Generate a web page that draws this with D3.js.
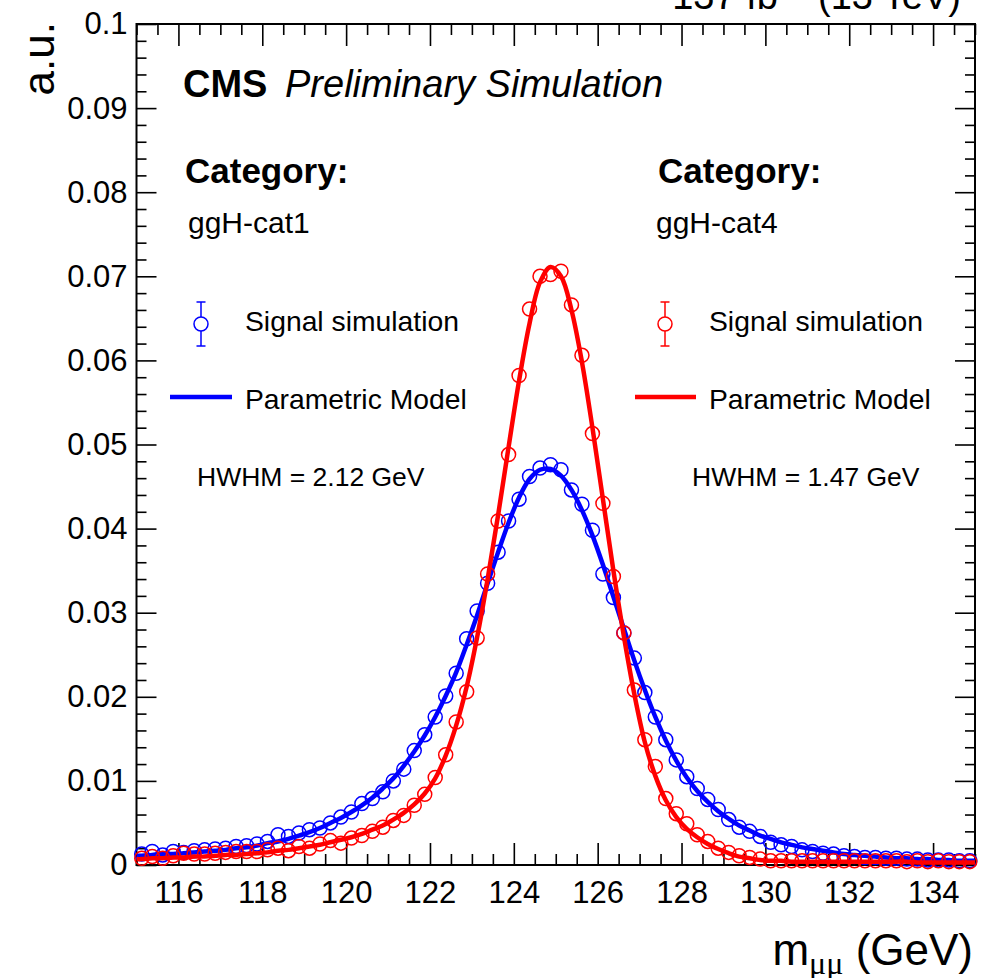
<!DOCTYPE html>
<html>
<head>
<meta charset="utf-8">
<script src="https://cdn.jsdelivr.net/npm/d3@7"></script>
<style>
  html, body { margin: 0; padding: 0; background: #fff; }
  svg { display: block; font-family: "Liberation Sans", Arial, Helvetica, sans-serif; }
</style>
</head>
<body>
<svg id="chart" width="1001" height="978"></svg>
<script>
// ---------------- DATA ----------------
// bin centres of the simulated signal histograms (GeV)
const binCenters = [
  115.125,115.375,115.625,115.875,116.125,116.375,116.625,116.875,117.125,117.375,
  117.625,117.875,118.125,118.375,118.625,118.875,119.125,119.375,119.625,119.875,
  120.125,120.375,120.625,120.875,121.125,121.375,121.625,121.875,122.125,122.375,
  122.625,122.875,123.125,123.375,123.625,123.875,124.125,124.375,124.625,124.875,
  125.125,125.375,125.625,125.875,126.125,126.375,126.625,126.875,127.125,127.375,
  127.625,127.875,128.125,128.375,128.625,128.875,129.125,129.375,129.625,129.875,
  130.125,130.375,130.625,130.875,131.125,131.375,131.625,131.875,132.125,132.375,
  132.625,132.875,133.125,133.375,133.625,133.875,134.125,134.375,134.625,134.875
];

// ggH-cat1 signal simulation (blue points)
const simCat1 = [
  0.0013,0.0016,0.0012,0.0016,0.0015,0.0017,0.0018,0.0019,0.0020,0.0022,
  0.0023,0.0025,0.0028,0.0036,0.0034,0.0038,0.0042,0.0044,0.0050,0.0057,
  0.0063,0.0073,0.0079,0.0087,0.0100,0.0114,0.0136,0.0155,0.0176,0.0201,
  0.0228,0.0269,0.0302,0.0335,0.0372,0.0409,0.0435,0.0462,0.0472,0.0476,
  0.0470,0.0446,0.0429,0.0398,0.0346,0.0318,0.0276,0.0246,0.0205,0.0176,
  0.0149,0.0125,0.0105,0.0091,0.0078,0.0066,0.0054,0.0045,0.0040,0.0034,
  0.0027,0.0024,0.0022,0.0018,0.0016,0.0014,0.0013,0.0011,0.0010,0.0009,
  0.0009,0.0008,0.0008,0.0007,0.0007,0.0006,0.0006,0.0006,0.0005,0.0005
];

// ggH-cat4 signal simulation (red points)
const simCat4 = [
  0.0008,0.0010,0.0008,0.0011,0.0014,0.0013,0.0013,0.0014,0.0015,0.0016,
  0.0016,0.0016,0.0018,0.0020,0.0017,0.0022,0.0020,0.0025,0.0029,0.0026,
  0.0032,0.0035,0.0040,0.0045,0.0053,0.0059,0.0071,0.0084,0.0104,0.0131,
  0.0170,0.0206,0.0270,0.0346,0.0409,0.0488,0.0582,0.0661,0.0700,0.0702,
  0.0706,0.0666,0.0606,0.0513,0.0430,0.0343,0.0276,0.0208,0.0149,0.0117,
  0.0079,0.0061,0.0049,0.0036,0.0028,0.0020,0.0015,0.0011,0.0009,0.0007,
  0.0005,0.0005,0.0005,0.0005,0.0005,0.0005,0.0005,0.0005,0.0005,0.0005,
  0.0005,0.0005,0.0005,0.0004,0.0005,0.0004,0.0005,0.0004,0.0004,0.0004
];

// parametric model curves, sampled at the frame edges and the bin centres
const modelMass = [115.0].concat(binCenters, [135.0]);

const modelCat1 = [
  0.0011,
  0.0011,0.0012,0.0013,0.0013,0.0014,0.0015,0.0016,0.0017,0.0018,0.0020,
  0.0021,0.0023,0.0026,0.0028,0.0031,0.0035,0.0039,0.0044,0.0050,0.0056,
  0.0063,0.0071,0.0080,0.0091,0.0103,0.0118,0.0135,0.0154,0.0176,0.0201,
  0.0229,0.0262,0.0297,0.0335,0.0372,0.0407,0.0437,0.0459,0.0470,0.0471,
  0.0463,0.0446,0.0422,0.0392,0.0357,0.0319,0.0281,0.0243,0.0208,0.0176,
  0.0148,0.0124,0.0104,0.0088,0.0075,0.0064,0.0055,0.0047,0.0041,0.0035,
  0.0031,0.0027,0.0024,0.0021,0.0019,0.0017,0.0015,0.0013,0.0012,0.0011,
  0.0010,0.0009,0.0008,0.0008,0.0007,0.0007,0.0006,0.0006,0.0005,0.0005,
  0.0005
];

const modelCat4 = [
  0.0007,
  0.0007,0.0008,0.0008,0.0009,0.0009,0.0010,0.0010,0.0011,0.0012,0.0012,
  0.0013,0.0014,0.0015,0.0017,0.0018,0.0020,0.0022,0.0024,0.0027,0.0030,
  0.0033,0.0037,0.0042,0.0047,0.0054,0.0062,0.0072,0.0085,0.0103,0.0130,
  0.0166,0.0212,0.0271,0.0340,0.0416,0.0497,0.0576,0.0644,0.0693,0.0711,
  0.0700,0.0660,0.0598,0.0520,0.0435,0.0350,0.0272,0.0203,0.0146,0.0106,
  0.0077,0.0057,0.0043,0.0033,0.0025,0.0019,0.0014,0.0010,0.0008,0.0006,
  0.0005,0.0005,0.0004,0.0004,0.0004,0.0004,0.0004,0.0004,0.0004,0.0004,
  0.0004,0.0004,0.0004,0.0004,0.0003,0.0003,0.0003,0.0003,0.0003,0.0003,
  0.0003
];

const xDomain = [115, 135];
const yDomain = [0, 0.1];
const xMajorTicks = [116,118,120,122,124,126,128,130,132,134];
const xTickLabels = ["116","118","120","122","124","126","128","130","132","134"];
const yMajorTicks = [0,0.01,0.02,0.03,0.04,0.05,0.06,0.07,0.08,0.09,0.1];
const yTickLabels = ["0","0.01","0.02","0.03","0.04","0.05","0.06","0.07","0.08","0.09","0.1"];

const categories = ["ggH-cat1", "ggH-cat4"];
const hwhmTexts = ["HWHM = 2.12 GeV", "HWHM = 1.47 GeV"];
const seriesColors = ["#0000ff", "#ff0000"];

// ---------------- DRAW ----------------
const svg = d3.select("#chart");
const L = 136.5, R = 975, T = 24, B = 865;

const x = d3.scaleLinear().domain(xDomain).range([L, R]);
const y = d3.scaleLinear().domain(yDomain).range([B, T]);

const xMinor = d3.range(115, 135.001, 0.5).filter(v => !xMajorTicks.includes(v));
const yMinor = d3.range(0, 0.1001, 0.002).map(v => +v.toFixed(3)).filter(v => !yMajorTicks.some(m => Math.abs(m - v) < 1e-9));

function styleAxis(g, fs) {
  g.select(".domain").remove();
  g.selectAll(".tick line").attr("stroke", "#000").attr("stroke-width", 1.6);
  g.selectAll(".tick text").attr("fill", "#000").attr("font-size", fs)
    .attr("font-family", "'Liberation Sans', Arial, Helvetica, sans-serif");
}

// bottom axis
svg.append("g").attr("transform", `translate(0,${B})`)
  .call(d3.axisBottom(x).tickValues(xMajorTicks).tickSize(-22).tickPadding(16)
        .tickFormat((d, i) => xTickLabels[i]))
  .call(g => styleAxis(g, 31));
svg.append("g").attr("transform", `translate(0,${B})`)
  .call(d3.axisBottom(x).tickValues(xMinor).tickSize(-11).tickFormat(""))
  .call(g => styleAxis(g, 0));
// top axis
svg.append("g").attr("transform", `translate(0,${T})`)
  .call(d3.axisTop(x).tickValues(xMajorTicks).tickSize(-22).tickFormat(""))
  .call(g => styleAxis(g, 0));
svg.append("g").attr("transform", `translate(0,${T})`)
  .call(d3.axisTop(x).tickValues(xMinor).tickSize(-11).tickFormat(""))
  .call(g => styleAxis(g, 0));
// left axis
svg.append("g").attr("transform", `translate(${L},0)`)
  .call(d3.axisLeft(y).tickValues(yMajorTicks).tickSize(-20).tickPadding(9)
        .tickFormat((d, i) => yTickLabels[i]))
  .call(g => styleAxis(g, 31));
svg.append("g").attr("transform", `translate(${L},0)`)
  .call(d3.axisLeft(y).tickValues(yMinor).tickSize(-10).tickFormat(""))
  .call(g => styleAxis(g, 0));
// right axis
svg.append("g").attr("transform", `translate(${R},0)`)
  .call(d3.axisRight(y).tickValues(yMajorTicks).tickSize(-20).tickFormat(""))
  .call(g => styleAxis(g, 0));
svg.append("g").attr("transform", `translate(${R},0)`)
  .call(d3.axisRight(y).tickValues(yMinor).tickSize(-10).tickFormat(""))
  .call(g => styleAxis(g, 0));

// frame
svg.append("rect").attr("x", L).attr("y", T).attr("width", R - L).attr("height", B - T)
  .attr("fill", "none").attr("stroke", "#000").attr("stroke-width", 2);

// series
const plotG = svg.append("g");
const line = d3.line().x((d, i) => x(modelMass[i])).y(d => y(d)).curve(d3.curveCatmullRom.alpha(0.5));

function drawSeries(sim, model, color) {
  plotG.append("g").selectAll("circle").data(sim).join("circle")
    .attr("cx", (d, i) => x(binCenters[i]))
    .attr("cy", d => y(d))
    .attr("r", 7)
    .attr("fill", "none")
    .attr("stroke", color)
    .attr("stroke-width", 1.5);
  plotG.append("path").datum(model)
    .attr("d", line)
    .attr("fill", "none")
    .attr("stroke", color)
    .attr("stroke-width", 4.5)
    .attr("stroke-linejoin", "round");
}
drawSeries(simCat1, modelCat1, seriesColors[0]);
drawSeries(simCat4, modelCat4, seriesColors[1]);

// ---------------- TEXT ----------------
const font = "'Liberation Sans', Arial, Helvetica, sans-serif";

// top right luminosity (clipped at the top edge, as in the original)
const lumi = svg.append("text").attr("x", 961).attr("y", 9).attr("text-anchor", "end")
  .attr("font-size", 38).attr("font-family", font);
lumi.append("tspan").text("137 fb");
lumi.append("tspan").attr("font-size", 26).attr("dy", -15).text("\u22121");
lumi.append("tspan").attr("dy", 15).text(" (13 TeV)");

// y axis title
svg.append("text").attr("transform", "translate(54,22) rotate(-90)")
  .attr("text-anchor", "end").attr("font-size", 44).attr("font-family", font).text("a.u.");

// x axis title
const xt = svg.append("text").attr("x", 973).attr("y", 965).attr("text-anchor", "end")
  .attr("font-size", 44).attr("font-family", font);
xt.append("tspan").text("m");
xt.append("tspan").attr("font-size", 32).attr("dy", 9)
  .attr("font-family", "'Liberation Serif', 'Times New Roman', serif").text("\u03bc\u03bc");
xt.append("tspan").attr("dy", -9).text(" (GeV)");

// CMS label
svg.append("text").attr("x", 183).attr("y", 97).attr("font-size", 38).attr("font-weight", "bold")
  .attr("font-family", font).text("CMS");
svg.append("text").attr("x", 285).attr("y", 97).attr("font-size", 38).attr("font-style", "italic")
  .attr("font-family", font).text("Preliminary Simulation");

// category blocks and legends
const blocks = [
  {catX: 185, tagX: 188, barX: 201, lineX1: 170, lineX2: 232, textX: 245, hwhmX: 197},
  {catX: 658, tagX: 656, barX: 665, lineX1: 635, lineX2: 696, textX: 709, hwhmX: 692}
];
blocks.forEach((b, k) => {
  const c = seriesColors[k];
  svg.append("text").attr("x", b.catX).attr("y", 183).attr("font-size", 35).attr("font-weight", "bold")
    .attr("font-family", font).text("Category:");
  svg.append("text").attr("x", b.tagX).attr("y", 233).attr("font-size", 30)
    .attr("font-family", font).text(categories[k]);
  // error-bar marker
  const g = svg.append("g").attr("stroke", c).attr("stroke-width", 1.5).attr("fill", "none");
  g.append("line").attr("x1", b.barX).attr("x2", b.barX).attr("y1", 302).attr("y2", 317);
  g.append("line").attr("x1", b.barX).attr("x2", b.barX).attr("y1", 331).attr("y2", 346);
  g.append("line").attr("x1", b.barX - 4.5).attr("x2", b.barX + 4.5).attr("y1", 302).attr("y2", 302);
  g.append("line").attr("x1", b.barX - 4.5).attr("x2", b.barX + 4.5).attr("y1", 346).attr("y2", 346);
  g.append("circle").attr("cx", b.barX).attr("cy", 324).attr("r", 7);
  svg.append("text").attr("x", b.textX).attr("y", 331).attr("font-size", 28.3)
    .attr("font-family", font).text("Signal simulation");
  svg.append("line").attr("x1", b.lineX1).attr("x2", b.lineX2).attr("y1", 397).attr("y2", 397)
    .attr("stroke", c).attr("stroke-width", 4.5);
  svg.append("text").attr("x", b.textX).attr("y", 409).attr("font-size", 28.3)
    .attr("font-family", font).text("Parametric Model");
  svg.append("text").attr("x", b.hwhmX).attr("y", 486).attr("font-size", 26.5)
    .attr("font-family", font).text(hwhmTexts[k]);
});
</script>
</body>
</html>
